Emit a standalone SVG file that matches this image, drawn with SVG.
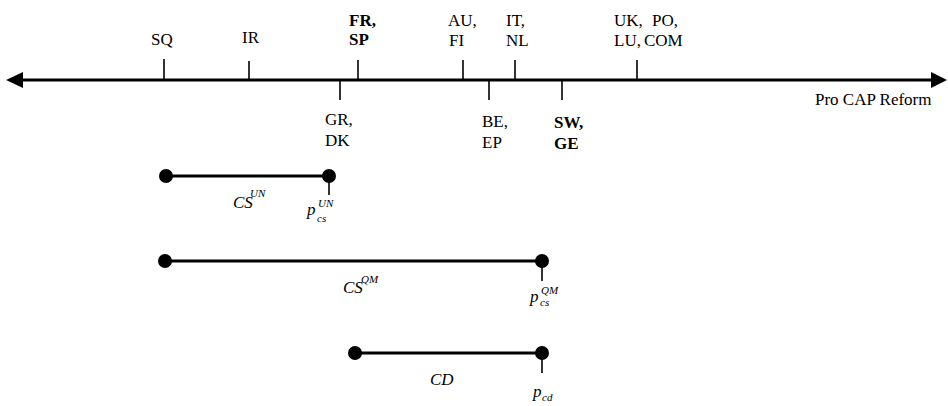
<svg xmlns="http://www.w3.org/2000/svg" width="948" height="406" viewBox="0 0 948 406" font-family="'Liberation Serif', 'Times New Roman', 'DejaVu Serif', serif">
<style>
text{font-family:'Liberation Serif','Times New Roman','DejaVu Serif',serif;font-size:17px;fill:#000}
.b{font-weight:bold}
.i{font-style:italic}
.s{font-size:11px;font-style:italic}
.tick{stroke:#000;stroke-width:1.6}
.seg{stroke:#000;stroke-width:3}
</style>
<rect width="948" height="406" fill="#fff"/>
<g id="axis">
<line x1="20" y1="80" x2="935" y2="80" stroke="#000" stroke-width="3"/>
<polygon points="6,80 23,72 23,88" fill="#000"/>
<polygon points="947,80 931,72 931,88" fill="#000"/>
<text x="815" y="105">Pro CAP Reform</text>
</g>
<g id="ticks">
<line class="tick" x1="164" y1="59" x2="164" y2="80"/>
<line class="tick" x1="249" y1="61" x2="249" y2="80"/>
<line class="tick" x1="358" y1="60" x2="358" y2="80"/>
<line class="tick" x1="463" y1="60" x2="463" y2="80"/>
<line class="tick" x1="515" y1="60" x2="515" y2="80"/>
<line class="tick" x1="637" y1="60" x2="637" y2="80"/>
<line class="tick" x1="340" y1="80" x2="340" y2="100"/>
<line class="tick" x1="489" y1="80" x2="489" y2="100"/>
<line class="tick" x1="562" y1="80" x2="562" y2="100"/>
</g>
<g id="SQ"><text x="151" y="45">SQ</text></g>
<g id="IR"><text x="242" y="43">IR</text></g>
<g id="FR-SP"><text class="b" x="349" y="26">FR,</text><text class="b" x="349" y="45">SP</text></g>
<g id="AU-FI"><text x="448" y="26">AU,</text><text x="449" y="46">FI</text></g>
<g id="IT-NL"><text x="506" y="26">IT,</text><text x="506" y="46">NL</text></g>
<g id="UK-LU-PO-COM"><text x="614" y="26">UK,</text><text x="652" y="26">PO,</text><text x="614" y="46">LU,</text><text x="644" y="46">COM</text></g>
<g id="GR-DK"><text x="325" y="125">GR,</text><text x="325" y="146">DK</text></g>
<g id="BE-EP"><text x="482" y="127">BE,</text><text x="482" y="148">EP</text></g>
<g id="SW-GE"><text class="b" x="554" y="128">SW,</text><text class="b" x="554" y="149">GE</text></g>
<g id="CS-UN">
<line class="seg" x1="166" y1="176" x2="329" y2="176"/>
<circle cx="166" cy="176" r="7"/>
<circle cx="329" cy="176" r="7"/>
<line class="tick" x1="329" y1="176" x2="329" y2="195"/>
<text class="i" x="233" y="208">CS</text><text class="s" x="250" y="197">UN</text>
<text class="i" x="307" y="215">p</text><text class="s" x="318" y="207">UN</text><text class="s" x="317" y="222">cs</text>
</g>
<g id="CS-QM">
<line class="seg" x1="165" y1="261" x2="542" y2="261"/>
<circle cx="165" cy="261" r="7"/>
<circle cx="542" cy="261" r="7"/>
<line class="tick" x1="542" y1="261" x2="542" y2="281"/>
<text class="i" x="343" y="293">CS</text><text class="s" x="361" y="283">QM</text>
<text class="i" x="530" y="302">p</text><text class="s" x="541" y="294">QM</text><text class="s" x="540" y="306">cs</text>
</g>
<g id="CD">
<line class="seg" x1="355" y1="353" x2="542" y2="353"/>
<circle cx="355" cy="353" r="7"/>
<circle cx="542" cy="353" r="7"/>
<line class="tick" x1="542" y1="353" x2="542" y2="373"/>
<text class="i" x="430" y="385">CD</text>
<text class="i" x="533" y="397">p</text><text class="s" x="542" y="401">cd</text>
</g>
</svg>
